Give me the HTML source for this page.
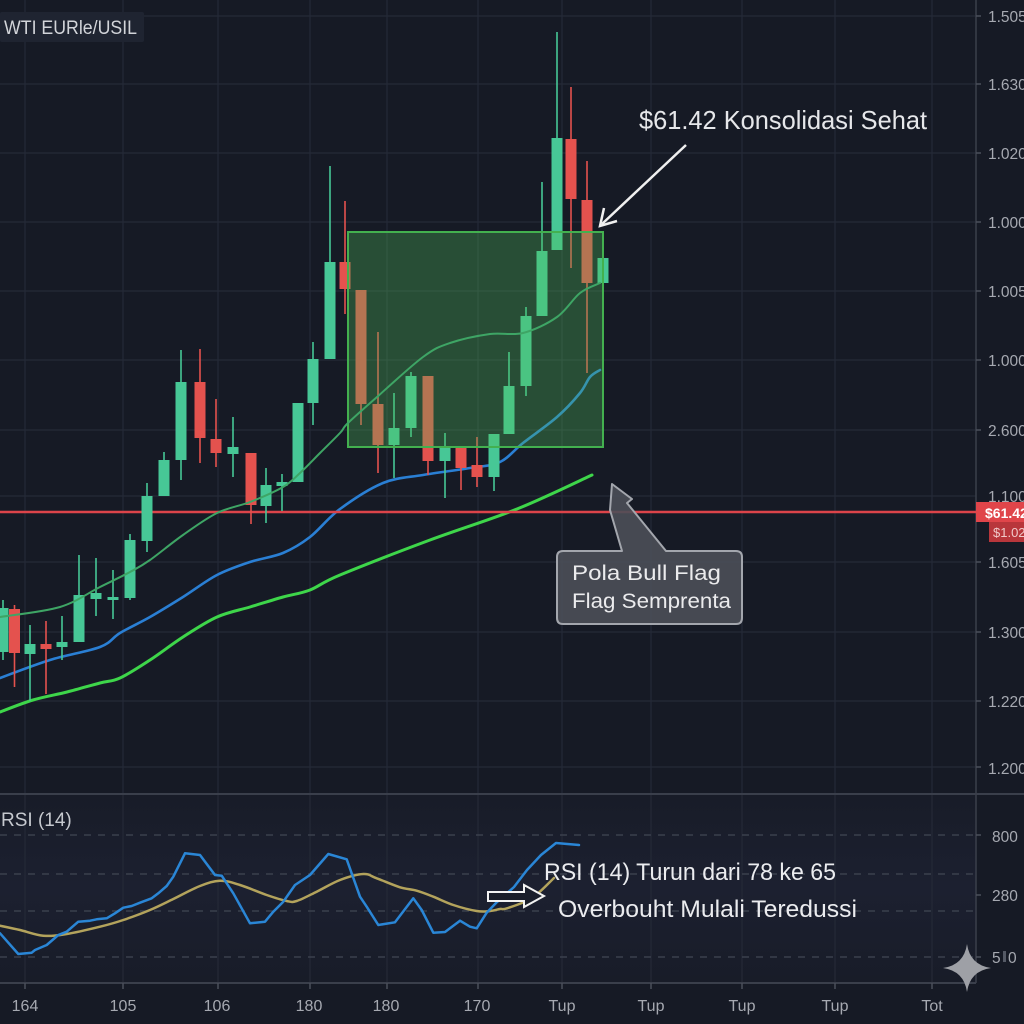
<!DOCTYPE html>
<html><head><meta charset="utf-8"><style>
html,body{margin:0;padding:0;background:#161a25;}
svg{display:block;font-family:"Liberation Sans",sans-serif;}
</style></head><body>
<svg id="chart" width="1024" height="1024" viewBox="0 0 1024 1024" xmlns="http://www.w3.org/2000/svg">
<defs>
<linearGradient id="rsibg" x1="0" y1="0" x2="0" y2="1">
<stop offset="0" stop-color="#181c28"/><stop offset="0.5" stop-color="#1c2030"/><stop offset="1" stop-color="#181c28"/>
</linearGradient>
</defs>
<rect width="1024" height="1024" fill="#161a25"/>
<rect x="0" y="794" width="976" height="189" fill="url(#rsibg)"/>
<g stroke="#252a37" stroke-width="1.2">
<line x1="25" y1="0" x2="25" y2="983"/><line x1="123" y1="0" x2="123" y2="983"/>
<line x1="218" y1="0" x2="218" y2="983"/><line x1="310" y1="0" x2="310" y2="983"/>
<line x1="387" y1="0" x2="387" y2="983"/><line x1="478" y1="0" x2="478" y2="983"/>
<line x1="562" y1="0" x2="562" y2="983"/><line x1="651" y1="0" x2="651" y2="983"/>
<line x1="742" y1="0" x2="742" y2="983"/><line x1="835" y1="0" x2="835" y2="983"/>
<line x1="932" y1="0" x2="932" y2="983"/>
</g>
<g stroke="#252a37" stroke-width="1.2">
<line x1="0" y1="16" x2="976" y2="16"/><line x1="0" y1="84" x2="976" y2="84"/>
<line x1="0" y1="153" x2="976" y2="153"/><line x1="0" y1="222" x2="976" y2="222"/>
<line x1="0" y1="291" x2="976" y2="291"/><line x1="0" y1="360" x2="976" y2="360"/>
<line x1="0" y1="430" x2="976" y2="430"/><line x1="0" y1="496" x2="976" y2="496"/>
<line x1="0" y1="562" x2="976" y2="562"/><line x1="0" y1="632" x2="976" y2="632"/>
<line x1="0" y1="701" x2="976" y2="701"/><line x1="0" y1="767" x2="976" y2="767"/>
</g>
<g stroke="#3b404d" stroke-width="1.5" stroke-dasharray="7 7">
<line x1="0" y1="835" x2="976" y2="835"/><line x1="0" y1="874" x2="976" y2="874"/>
<line x1="0" y1="911" x2="976" y2="911"/><line x1="0" y1="957" x2="976" y2="957"/>
</g>
<line x1="0" y1="794" x2="1024" y2="794" stroke="#3a3f4b" stroke-width="2"/>
<line x1="0" y1="983" x2="976" y2="983" stroke="#3a3f4b" stroke-width="2"/>
<line x1="976" y1="0" x2="976" y2="983" stroke="#3a3f4b" stroke-width="1.5"/>
<g stroke="#4a4f5b" stroke-width="1.5">
<line x1="976" y1="16" x2="981" y2="16"/><line x1="976" y1="84" x2="981" y2="84"/>
<line x1="976" y1="153" x2="981" y2="153"/><line x1="976" y1="222" x2="981" y2="222"/>
<line x1="976" y1="291" x2="981" y2="291"/><line x1="976" y1="360" x2="981" y2="360"/>
<line x1="976" y1="430" x2="981" y2="430"/><line x1="976" y1="562" x2="981" y2="562"/>
<line x1="976" y1="632" x2="981" y2="632"/><line x1="976" y1="701" x2="981" y2="701"/>
<line x1="976" y1="767" x2="981" y2="767"/><line x1="976" y1="835" x2="981" y2="835"/>
<line x1="976" y1="895" x2="981" y2="895"/><line x1="976" y1="957" x2="981" y2="957"/>
<line x1="25" y1="983" x2="25" y2="989"/><line x1="123" y1="983" x2="123" y2="989"/>
<line x1="218" y1="983" x2="218" y2="989"/><line x1="310" y1="983" x2="310" y2="989"/>
<line x1="387" y1="983" x2="387" y2="989"/><line x1="478" y1="983" x2="478" y2="989"/>
<line x1="562" y1="983" x2="562" y2="989"/><line x1="651" y1="983" x2="651" y2="989"/>
<line x1="742" y1="983" x2="742" y2="989"/><line x1="835" y1="983" x2="835" y2="989"/>
<line x1="932" y1="983" x2="932" y2="989"/>
</g>

<polyline class="sm" fill="none" stroke="#3ed64a" stroke-width="3" stroke-linejoin="round" stroke-linecap="round"
points="0,712 33,700 67,692 100,683 120,678 150,660 183,637 217,617 250,607 283,597 310,590 340,575 430,540 517,509 592,475"/>
<polyline class="sm" fill="none" stroke="#2a7fd4" stroke-width="2.6" stroke-linejoin="round" stroke-linecap="round"
points="0,678 50,660 100,647 120,633 150,617 183,597 217,575 250,562 283,553 310,537 340,509 383,483 423,475 470,468 500,462 523,443 557,417 580,393 590,377 600,370"/>

<line x1="0" y1="512" x2="976" y2="512" stroke="#dc444a" stroke-width="2.5"/>

<g stroke-width="1.6">
<g stroke="#47c796" fill="#47c796"><line x1="3" y1="600" x2="3" y2="660"/><rect x="-2.5" y="608" width="11" height="44" stroke="none"/></g>
<g stroke="#e4524e" fill="#e4524e"><line x1="14.5" y1="605" x2="14.5" y2="687"/><rect x="9" y="609" width="11" height="44" stroke="none"/></g>
<g stroke="#47c796" fill="#47c796"><line x1="30" y1="625" x2="30" y2="701"/><rect x="24.5" y="644" width="11" height="10" stroke="none"/></g>
<g stroke="#e4524e" fill="#e4524e"><line x1="46" y1="621" x2="46" y2="694"/><rect x="40.5" y="644" width="11" height="5" stroke="none"/></g>
<g stroke="#47c796" fill="#47c796"><line x1="62" y1="616" x2="62" y2="660"/><rect x="56.5" y="642" width="11" height="5" stroke="none"/></g>
<g stroke="#47c796" fill="#47c796"><line x1="79" y1="555" x2="79" y2="642"/><rect x="73.5" y="595" width="11" height="47" stroke="none"/></g>
<g stroke="#47c796" fill="#47c796"><line x1="96" y1="558" x2="96" y2="616"/><rect x="90.5" y="593" width="11" height="6" stroke="none"/></g>
<g stroke="#47c796" fill="#47c796"><line x1="113" y1="570" x2="113" y2="619"/><rect x="107.5" y="597" width="11" height="3" stroke="none"/></g>
<g stroke="#47c796" fill="#47c796"><line x1="130" y1="534" x2="130" y2="600"/><rect x="124.5" y="540" width="11" height="58" stroke="none"/></g>
<g stroke="#47c796" fill="#47c796"><line x1="147" y1="483" x2="147" y2="552"/><rect x="141.5" y="496" width="11" height="45" stroke="none"/></g>
<g stroke="#47c796" fill="#47c796"><line x1="164" y1="452" x2="164" y2="496"/><rect x="158.5" y="460" width="11" height="36" stroke="none"/></g>
<g stroke="#47c796" fill="#47c796"><line x1="181" y1="350" x2="181" y2="480"/><rect x="175.5" y="382" width="11" height="78" stroke="none"/></g>
<g stroke="#e4524e" fill="#e4524e"><line x1="200" y1="349" x2="200" y2="463"/><rect x="194.5" y="382" width="11" height="56" stroke="none"/></g>
<g stroke="#e4524e" fill="#e4524e"><line x1="216" y1="399" x2="216" y2="467"/><rect x="210.5" y="439" width="11" height="14" stroke="none"/></g>
<g stroke="#47c796" fill="#47c796"><line x1="233" y1="417" x2="233" y2="477"/><rect x="227.5" y="447" width="11" height="7" stroke="none"/></g>
<g stroke="#e4524e" fill="#e4524e"><line x1="251" y1="453" x2="251" y2="524"/><rect x="245.5" y="453" width="11" height="52" stroke="none"/></g>
<g stroke="#47c796" fill="#47c796"><line x1="266" y1="468" x2="266" y2="523"/><rect x="260.5" y="485" width="11" height="21" stroke="none"/></g>
<g stroke="#47c796" fill="#47c796"><line x1="282" y1="474" x2="282" y2="511"/><rect x="276.5" y="482" width="11" height="4" stroke="none"/></g>
<g stroke="#47c796" fill="#47c796"><line x1="298" y1="403" x2="298" y2="482"/><rect x="292.5" y="403" width="11" height="79" stroke="none"/></g>
<g stroke="#47c796" fill="#47c796"><line x1="313" y1="342" x2="313" y2="425"/><rect x="307.5" y="359" width="11" height="44" stroke="none"/></g>
<g stroke="#47c796" fill="#47c796"><line x1="330" y1="166" x2="330" y2="359"/><rect x="324.5" y="262" width="11" height="97" stroke="none"/></g>
<g stroke="#e4524e" fill="#e4524e"><line x1="345" y1="201" x2="345" y2="314"/><rect x="339.5" y="262" width="11" height="27" stroke="none"/></g>
<g stroke="#e4524e" fill="#e4524e"><line x1="361" y1="290" x2="361" y2="425"/><rect x="355.5" y="290" width="11" height="114" stroke="none"/></g>
<g stroke="#e4524e" fill="#e4524e"><line x1="378" y1="332" x2="378" y2="473"/><rect x="372.5" y="404" width="11" height="41" stroke="none"/></g>
<g stroke="#47c796" fill="#47c796"><line x1="394" y1="393" x2="394" y2="478"/><rect x="388.5" y="428" width="11" height="17" stroke="none"/></g>
<g stroke="#47c796" fill="#47c796"><line x1="411" y1="372" x2="411" y2="437"/><rect x="405.5" y="376" width="11" height="52" stroke="none"/></g>
<g stroke="#e4524e" fill="#e4524e"><line x1="428" y1="376" x2="428" y2="475"/><rect x="422.5" y="376" width="11" height="85" stroke="none"/></g>
<g stroke="#47c796" fill="#47c796"><line x1="445" y1="433" x2="445" y2="498"/><rect x="439.5" y="448" width="11" height="13" stroke="none"/></g>
<g stroke="#e4524e" fill="#e4524e"><line x1="461" y1="448" x2="461" y2="490"/><rect x="455.5" y="448" width="11" height="20" stroke="none"/></g>
<g stroke="#e4524e" fill="#e4524e"><line x1="477" y1="437" x2="477" y2="487"/><rect x="471.5" y="465" width="11" height="12" stroke="none"/></g>
<g stroke="#47c796" fill="#47c796"><line x1="494" y1="434" x2="494" y2="491"/><rect x="488.5" y="434" width="11" height="43" stroke="none"/></g>
<g stroke="#47c796" fill="#47c796"><line x1="509" y1="352" x2="509" y2="434"/><rect x="503.5" y="386" width="11" height="48" stroke="none"/></g>
<g stroke="#47c796" fill="#47c796"><line x1="526" y1="307" x2="526" y2="396"/><rect x="520.5" y="316" width="11" height="70" stroke="none"/></g>
<g stroke="#47c796" fill="#47c796"><line x1="542" y1="182" x2="542" y2="316"/><rect x="536.5" y="251" width="11" height="65" stroke="none"/></g>
<g stroke="#47c796" fill="#47c796"><line x1="557" y1="32" x2="557" y2="250"/><rect x="551.5" y="138" width="11" height="112" stroke="none"/></g>
<g stroke="#e4524e" fill="#e4524e"><line x1="571" y1="87" x2="571" y2="268"/><rect x="565.5" y="139" width="11" height="60" stroke="none"/></g>
<g stroke="#e4524e" fill="#e4524e"><line x1="587" y1="161" x2="587" y2="373"/><rect x="581.5" y="200" width="11" height="83" stroke="none"/></g>
<g stroke="#47c796" fill="#47c796"><line x1="603" y1="258" x2="603" y2="300"/><rect x="597.5" y="258" width="11" height="25" stroke="none"/></g>
</g>

<rect x="348" y="232" width="255" height="215" fill="rgb(80,190,90)" fill-opacity="0.32" stroke="#43b04f" stroke-width="2"/>

<polyline class="sm" fill="none" stroke="#3ea565" stroke-width="2" stroke-linejoin="round" stroke-linecap="round"
points="0,617 60,607 100,587 130,572 150,560 183,535 217,513 250,502 283,487 300,473 320,453 340,433 348,423 377,397 423,357 450,343 490,334 523,333 557,317 580,293 600,283"/>

<text x="639" y="129" font-size="26" fill="#e6e7ea" textLength="288" lengthAdjust="spacingAndGlyphs">$61.42 Konsolidasi Sehat</text>
<line x1="686" y1="145" x2="602" y2="224" stroke="#f0f0f0" stroke-width="2.5"/>
<polyline points="604,208 600,226 617,221" fill="none" stroke="#f0f0f0" stroke-width="2.5" stroke-linejoin="miter"/>

<path d="M612,484 L632,499 L627,503 L666,551 L736,551 Q742,551 742,557 L742,618 Q742,624 736,624 L563,624 Q557,624 557,618 L557,557 Q557,551 563,551 L622,551 L610,510 Z" fill="#4b4f58" fill-opacity="0.9" stroke="#a3a6ad" stroke-width="2" stroke-linejoin="round"/>
<text x="572" y="580" font-size="21" fill="#ebebed" textLength="149" lengthAdjust="spacingAndGlyphs">Pola Bull Flag</text>
<text x="572" y="608" font-size="21" fill="#ebebed" textLength="159" lengthAdjust="spacingAndGlyphs">Flag Semprenta</text>

<rect x="0" y="12" width="144" height="30" fill="#1f2431" rx="2"/>
<text x="4" y="34" font-size="19" fill="#d2d4d9" textLength="133" lengthAdjust="spacingAndGlyphs">WTI EURle/USIL</text>

<g font-size="15.5" fill="#a6a9b1">
<text x="988" y="22">1.505</text><text x="988" y="90">1.630</text>
<text x="988" y="159">1.020</text><text x="988" y="228">1.000</text>
<text x="988" y="297">1.005</text><text x="988" y="366">1.000</text>
<text x="988" y="436">2.600</text><text x="988" y="502">1.100</text>
<text x="988" y="568">1.605</text><text x="988" y="638">1.300</text>
<text x="988" y="707">1.220</text><text x="988" y="774">1.200</text>
<text x="992" y="842">800</text><text x="992" y="901">280</text>
<text x="992" y="963">5</text><rect x="1003" y="951" width="3" height="11" fill="#555a66"/><text x="1008" y="963">0</text>
</g>
<rect x="976" y="502" width="48" height="20" fill="#e0454a"/>
<text x="985" y="518" font-size="14" font-weight="bold" fill="#ffffff">$61.42</text>
<rect x="989" y="522" width="35" height="20" fill="#b8363b"/>
<text x="993" y="537" font-size="13" fill="#f0c9c9">$1.02</text>

<polyline class="sm" fill="none" stroke="#b3a35c" stroke-width="2.5" stroke-linejoin="round" stroke-linecap="round"
points="0,925.7 20,930 43.3,935.7 66.7,934 100,926.7 123.3,920 150,910 173.3,899 200,886 220,880.7 240,885 266.7,895 286.7,901 296.7,901 316.7,891.7 340,880 363.3,874 376.7,878.3 400,887.3 416.7,890.7 433.3,896.7 453.3,905 476.7,911 490,911 500,909 507,908.3 532,898 554,878"/>
<polyline fill="none" stroke="#2a86d6" stroke-width="2.5" stroke-linejoin="round" stroke-linecap="round"
points="0,933.3 18.3,954 31.7,952.7 35,950 46.7,945 58.3,935 66.7,931.7 78.3,921.7 90,920.7 96.7,919.3 106.7,918.3 115,913.3 123.3,907.7 131.7,906 140,902.7 151.7,898.3 158.3,893.3 166.7,886 173.3,876.7 185,853.3 200,855 215,875 221.7,875.7 233.3,893.3 250,923.3 265,921.7 273.3,911.7 283.3,901.7 295,885 310,875 328.3,854 346.7,859.3 360,896.7 366.7,906.7 378.3,925 395,922.3 413.3,898.3 421.7,910 433.3,932.7 445,932 460,920.7 470,926.7 476.7,928.3 486.7,912.7 496,903 514,887 527,870 541,855 556,843 579,845"/>

<path d="M488,892 L524,892 L524,885 L544,896 L524,907 L524,901 L488,901 Z" fill="#1a1e2a" stroke="#f2f2f2" stroke-width="2" stroke-linejoin="miter"/>
<text x="544" y="880" font-size="24" fill="#ebecef" textLength="292" lengthAdjust="spacingAndGlyphs">RSI (14) Turun dari 78 ke 65</text>
<text x="558" y="917" font-size="24" fill="#ebecef" textLength="299" lengthAdjust="spacingAndGlyphs">Overbouht Mulali Teredussi</text>
<text x="1" y="826" font-size="19" fill="#c6c9cf">RSI (14)</text>

<g font-size="16" fill="#a6a9b1" text-anchor="middle">
<text x="25" y="1011">164</text><text x="123" y="1011">105</text>
<text x="217" y="1011">106</text><text x="309" y="1011">180</text>
<text x="386" y="1011">180</text><text x="477" y="1011">170</text>
<text x="562" y="1011">Tup</text><text x="651" y="1011">Tup</text>
<text x="742" y="1011">Tup</text><text x="835" y="1011">Tup</text>
<text x="932" y="1011">Tot</text>
</g>

<path d="M967,944 Q970,965 991,968 Q970,971 967,992 Q964,971 943,968 Q964,965 967,944 Z" fill="#9ea0a6"/>
</svg>
<script>
(function(){
  var ns="http://www.w3.org/2000/svg";
  var pls=document.querySelectorAll("polyline.sm");
  for(var k=0;k<pls.length;k++){
    var pl=pls[k];
    var raw=pl.getAttribute("points").trim().split(/\s+/);
    var p=[];
    for(var i=0;i<raw.length;i++){var c=raw[i].split(",");p.push([+c[0],+c[1]]);}
    var d="M"+p[0][0]+","+p[0][1];
    for(var i=0;i<p.length-1;i++){
      var p0=p[i>0?i-1:i],p1=p[i],p2=p[i+1],p3=p[i+2<p.length?i+2:i+1];
      var t=6;
      var c1x=p1[0]+(p2[0]-p0[0])/t,c1y=p1[1]+(p2[1]-p0[1])/t;
      var c2x=p2[0]-(p3[0]-p1[0])/t,c2y=p2[1]-(p3[1]-p1[1])/t;
      d+=" C"+c1x.toFixed(1)+","+c1y.toFixed(1)+" "+c2x.toFixed(1)+","+c2y.toFixed(1)+" "+p2[0]+","+p2[1];
    }
    var path=document.createElementNS(ns,"path");
    path.setAttribute("d",d);
    var attrs=["fill","stroke","stroke-width","stroke-linejoin","stroke-linecap"];
    for(var a=0;a<attrs.length;a++){path.setAttribute(attrs[a],pl.getAttribute(attrs[a]));}
    pl.parentNode.replaceChild(path,pl);
  }
})();
</script>
</body></html>
